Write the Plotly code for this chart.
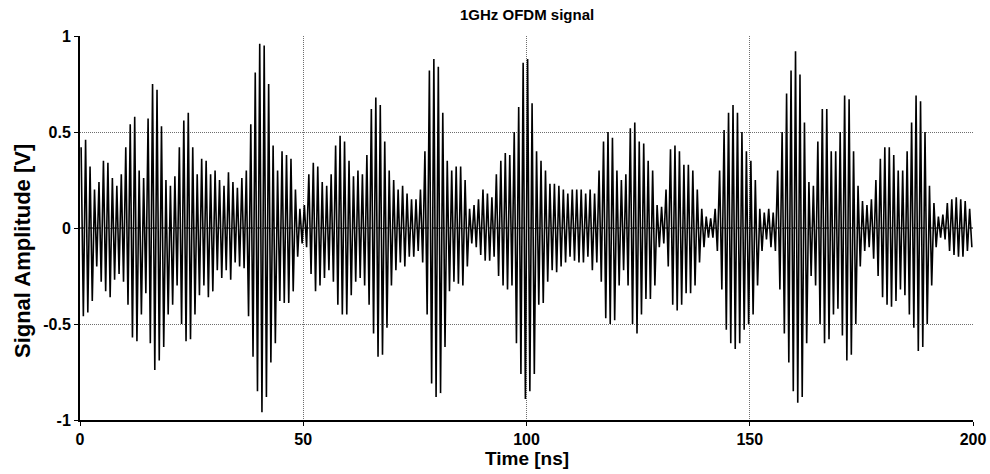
import numpy as np
import plotly.graph_objects as go

# Positive and negative peak of each 1 ns carrier cycle
top_peaks = [
    0.42, 0.46, 0.32, 0.20, 0.24, 0.35, 0.34, 0.26, 0.22, 0.28,
    0.42, 0.54, 0.58, 0.30, 0.26, 0.57, 0.75, 0.72, 0.53, 0.25,
    0.22, 0.27, 0.42, 0.56, 0.60, 0.42, 0.28, 0.36, 0.35, 0.28,
    0.30, 0.25, 0.22, 0.29, 0.24, 0.21, 0.26, 0.30, 0.54, 0.81,
    0.96, 0.95, 0.75, 0.43, 0.30, 0.40, 0.38, 0.36, 0.20, 0.10,
    0.12, 0.28, 0.34, 0.32, 0.24, 0.22, 0.28, 0.43, 0.48, 0.45,
    0.35, 0.27, 0.30, 0.28, 0.38, 0.62, 0.68, 0.64, 0.45, 0.30,
    0.25, 0.20, 0.22, 0.18, 0.15, 0.15, 0.20, 0.40, 0.82, 0.88,
    0.84, 0.60, 0.35, 0.30, 0.32, 0.32, 0.25, 0.10, 0.12, 0.15,
    0.20, 0.18, 0.16, 0.28, 0.35, 0.39, 0.38, 0.50, 0.63, 0.86,
    0.88, 0.65, 0.40, 0.35, 0.30, 0.23, 0.23, 0.22, 0.20, 0.18,
    0.20, 0.20, 0.20, 0.18, 0.20, 0.18, 0.30, 0.45, 0.50, 0.47,
    0.30, 0.25, 0.28, 0.52, 0.55, 0.45, 0.44, 0.35, 0.30, 0.12,
    0.11, 0.20, 0.41, 0.43, 0.40, 0.33, 0.33, 0.30, 0.20, 0.10,
    0.06, 0.05, 0.10, 0.30, 0.51, 0.60, 0.64, 0.60, 0.50, 0.40,
    0.35, 0.25, 0.10, 0.08, 0.10, 0.08, 0.30, 0.50, 0.70, 0.82,
    0.92, 0.80, 0.55, 0.24, 0.22, 0.45, 0.62, 0.62, 0.40, 0.40,
    0.50, 0.69, 0.67, 0.40, 0.22, 0.14, 0.12, 0.15, 0.25, 0.36,
    0.42, 0.42, 0.38, 0.30, 0.30, 0.40, 0.55, 0.69, 0.66, 0.50,
    0.22, 0.13, 0.06, 0.07, 0.13, 0.15, 0.16, 0.15, 0.14, 0.10,
]
bottom_peaks = [
    -0.46, -0.44, -0.38, -0.20, -0.28, -0.33, -0.36, -0.27, -0.24, -0.28,
    -0.40, -0.57, -0.59, -0.45, -0.34, -0.60, -0.74, -0.69, -0.62, -0.45,
    -0.40, -0.30, -0.50, -0.59, -0.58, -0.45, -0.35, -0.30, -0.36, -0.33,
    -0.22, -0.26, -0.22, -0.27, -0.18, -0.20, -0.21, -0.46, -0.67, -0.85,
    -0.96, -0.88, -0.70, -0.60, -0.38, -0.39, -0.39, -0.33, -0.15, -0.08,
    -0.10, -0.24, -0.33, -0.30, -0.26, -0.22, -0.28, -0.40, -0.45, -0.45,
    -0.35, -0.28, -0.26, -0.30, -0.40, -0.55, -0.67, -0.66, -0.52, -0.30,
    -0.22, -0.18, -0.20, -0.15, -0.15, -0.12, -0.18, -0.45, -0.81, -0.88,
    -0.86, -0.62, -0.33, -0.28, -0.29, -0.30, -0.20, -0.08, -0.10, -0.14,
    -0.17, -0.17, -0.15, -0.25, -0.30, -0.32, -0.30, -0.60, -0.76, -0.89,
    -0.85, -0.76, -0.40, -0.39, -0.28, -0.22, -0.23, -0.20, -0.18, -0.15,
    -0.17, -0.18, -0.18, -0.15, -0.22, -0.18, -0.28, -0.47, -0.50, -0.48,
    -0.30, -0.22, -0.30, -0.50, -0.55, -0.45, -0.37, -0.37, -0.30, -0.10,
    -0.08, -0.20, -0.40, -0.43, -0.40, -0.34, -0.34, -0.30, -0.18, -0.10,
    -0.05, -0.05, -0.12, -0.32, -0.53, -0.60, -0.63, -0.60, -0.53, -0.50,
    -0.45, -0.30, -0.12, -0.06, -0.10, -0.12, -0.32, -0.55, -0.70, -0.85,
    -0.91, -0.88, -0.60, -0.25, -0.30, -0.50, -0.60, -0.58, -0.45, -0.42,
    -0.56, -0.69, -0.66, -0.50, -0.20, -0.12, -0.10, -0.16, -0.25, -0.36,
    -0.40, -0.41, -0.38, -0.32, -0.35, -0.45, -0.52, -0.64, -0.62, -0.50,
    -0.30, -0.10, -0.05, -0.06, -0.12, -0.14, -0.15, -0.15, -0.12, -0.10,
]
x_ticks = [0, 50, 100, 150, 200]
y_ticks = [-1, -0.5, 0, 0.5, 1]
y_tick_labels = ["-1", "-0.5", "0", "0.5", "1"]

# Interleave: positive peak at a quarter cycle, negative peak at three quarters
n = len(top_peaks)
cycle = np.arange(n)
t = np.empty(2 * n)
v = np.empty(2 * n)
t[0::2] = cycle + 0.25
t[1::2] = cycle + 0.75
v[0::2] = top_peaks
v[1::2] = bottom_peaks

font_family = "Liberation Sans, Arial, sans-serif"

fig = go.Figure()
fig.add_trace(go.Scatter(x=t, y=v, mode="lines",
                         line=dict(color="black", width=1.6),
                         showlegend=False, hoverinfo="skip"))

fig.add_shape(type="line", xref="x domain", yref="y", x0=0, x1=1, y0=0, y1=0,
              line=dict(color="black", width=1, dash="5px,3px"), layer="below")

grid = dict(showgrid=True, gridcolor="#6e6e6e", griddash="1px,1px", gridwidth=1)

fig.update_layout(
    width=990, height=474,
    margin=dict(l=80, r=17, t=36, b=54, autoexpand=False),
    paper_bgcolor="white", plot_bgcolor="white",
    font=dict(family=font_family, size=16, color="black"),
    xaxis=dict(
        range=[0, 200], tickvals=x_ticks, ticktext=[f"<b>{x}</b>" for x in x_ticks],
        **grid,
        zeroline=False, showline=True, linecolor="black", linewidth=2,
        ticks="outside", ticklen=4, tickcolor="black", tickfont=dict(size=16),
        automargin=False,
    ),
    yaxis=dict(
        range=[-1, 1], tickvals=y_ticks, ticktext=[f"<b>{s}</b>" for s in y_tick_labels],
        **grid,
        zeroline=False, showline=True, linecolor="black", linewidth=2,
        ticks="outside", ticklen=4, tickcolor="black", tickfont=dict(size=16),
        automargin=False,
    ),
    annotations=[
        dict(text="<b>1GHz OFDM signal</b>", xref="paper", yref="paper",
             x=0.5, y=1, xanchor="center", yanchor="middle", yshift=22,
             showarrow=False, font=dict(size=15)),
        dict(text="<b>Time [ns]</b>", xref="paper", yref="paper",
             x=0.5, y=0, xanchor="center", yanchor="middle", yshift=-38,
             showarrow=False, font=dict(size=19)),
        dict(text="<b>Signal Amplitude [V]</b>", xref="paper", yref="paper",
             x=0, y=0.44, xanchor="center", yanchor="middle", xshift=-58,
             textangle=-90, showarrow=False, font=dict(size=22)),
    ],
)

fig.write_html("out.html", config={"displayModeBar": False},
               post_script="document.body.style.margin='0';")
